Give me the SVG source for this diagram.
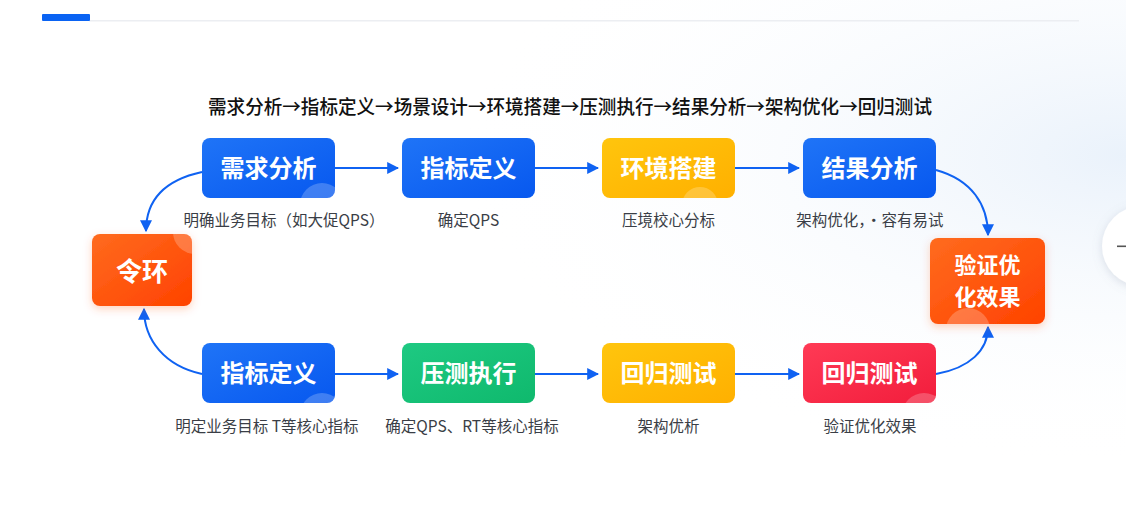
<svg xmlns="http://www.w3.org/2000/svg" width="1126" height="520" viewBox="0 0 1126 520">
<defs>
<style>
.nt{font-family:"Noto Sans CJK SC","Noto Sans",sans-serif;font-weight:700;fill:#fff;font-size:24px;text-anchor:middle}
.sub{font-family:"Noto Sans CJK SC","Noto Sans",sans-serif;font-size:15.5px;fill:#3a3e46;text-anchor:middle}
.title{font-family:"Noto Sans CJK SC","Noto Sans",sans-serif;font-size:19.5px;font-weight:500;fill:#111;text-anchor:middle}
.conn{fill:none;stroke:#0f62f2;stroke-width:2}
.deco{fill:#fff;opacity:0.22}
</style>
<linearGradient id="gBlue" x1="0" y1="0" x2="1" y2="1"><stop offset="0" stop-color="#1f74f7"/><stop offset="1" stop-color="#0758ef"/></linearGradient>
<linearGradient id="gYellow" x1="0" y1="0" x2="1" y2="1"><stop offset="0" stop-color="#ffc50d"/><stop offset="1" stop-color="#ffb000"/></linearGradient>
<linearGradient id="gGreen" x1="0" y1="0" x2="1" y2="1"><stop offset="0" stop-color="#1ec982"/><stop offset="1" stop-color="#0fb96d"/></linearGradient>
<linearGradient id="gRed" x1="0" y1="0" x2="1" y2="1"><stop offset="0" stop-color="#ff3a55"/><stop offset="1" stop-color="#f21d3c"/></linearGradient>
<linearGradient id="gOrange" x1="0" y1="0" x2="1" y2="1"><stop offset="0" stop-color="#ff6b1e"/><stop offset="1" stop-color="#ff4200"/></linearGradient>
<radialGradient id="bgR" cx="1" cy="0.3" r="0.6"><stop offset="0" stop-color="#eaf2fb"/><stop offset="1" stop-color="#ffffff" stop-opacity="0"/></radialGradient>
<filter id="sh" x="-20%" y="-20%" width="140%" height="150%"><feDropShadow dx="0" dy="3" stdDeviation="4" flood-color="#ff5010" flood-opacity="0.25"/></filter>
<filter id="csh" x="-50%" y="-50%" width="200%" height="200%"><feDropShadow dx="0" dy="2" stdDeviation="5" flood-color="#7a8aa0" flood-opacity="0.25"/></filter>
<marker id="ah" viewBox="0 0 10 10" refX="9" refY="5" markerWidth="6" markerHeight="6" orient="auto" markerUnits="strokeWidth"><path d="M0,0 L10,5 L0,10 z" fill="#0f62f2"/></marker>
<clipPath id="c1"><rect x="202" y="138" width="133" height="60" rx="8"/></clipPath>
<clipPath id="c3"><rect x="602" y="138" width="133" height="60" rx="8"/></clipPath>
<clipPath id="c5"><rect x="202" y="343" width="133" height="60" rx="8"/></clipPath>
<clipPath id="c8"><rect x="803" y="343" width="133" height="60" rx="8"/></clipPath>
<clipPath id="c9"><rect x="92" y="234" width="100" height="72" rx="8"/></clipPath>
<clipPath id="c10"><rect x="930" y="238" width="115" height="86" rx="8"/></clipPath>
</defs>

<rect width="1126" height="520" fill="#ffffff"/>
<rect width="1126" height="520" fill="url(#bgR)"/>

<g id="header">
<rect x="89" y="20" width="990" height="1.5" fill="#eceef2"/>
<rect x="42" y="14" width="48" height="7" rx="1" fill="#0a63f3"/>
</g>

<g id="side-button">
<circle cx="1142" cy="246" r="40" fill="#ffffff" filter="url(#csh)"/>
<rect x="1117" y="245.5" width="9" height="1.6" fill="#555"/>
</g>

<text class="title" x="570" y="114" textLength="724" lengthAdjust="spacingAndGlyphs">需求分析→指标定义→场景设计→环境搭建→压测执行→结果分析→架构优化→回归测试</text>

<g id="connectors">
<line class="conn" x1="335" y1="168" x2="398" y2="168" marker-end="url(#ah)"/>
<line class="conn" x1="535" y1="168" x2="598" y2="168" marker-end="url(#ah)"/>
<line class="conn" x1="735" y1="168" x2="799" y2="168" marker-end="url(#ah)"/>
<line class="conn" x1="335" y1="374" x2="398" y2="374" marker-end="url(#ah)"/>
<line class="conn" x1="535" y1="374" x2="598" y2="374" marker-end="url(#ah)"/>
<line class="conn" x1="735" y1="374" x2="799" y2="374" marker-end="url(#ah)"/>
<path class="conn" d="M202,172 C165,180 146,200 146,231" marker-end="url(#ah)"/>
<path class="conn" d="M202,374 C165,366 144,340 144,309" marker-end="url(#ah)"/>
<path class="conn" d="M936,170 C972,180 988,205 988,235" marker-end="url(#ah)"/>
<path class="conn" d="M936,374 C970,368 988,350 988,327" marker-end="url(#ah)"/>
</g>

<g id="n-xuqiu">
<rect x="202" y="138" width="133" height="60" rx="8" fill="url(#gBlue)"/>
<circle class="deco" cx="322" cy="205" r="22" clip-path="url(#c1)"/>
<text class="nt" x="268.5" y="177">需求分析</text>
<text class="sub" x="284" y="226">明确业务目标（如大促QPS）</text>
</g>
<g id="n-zhibiao1">
<rect x="402" y="138" width="133" height="60" rx="8" fill="url(#gBlue)"/>
<text class="nt" x="468.5" y="177">指标定义</text>
<text class="sub" x="468.5" y="226">确定QPS</text>
</g>
<g id="n-huanjing">
<rect x="602" y="138" width="133" height="60" rx="8" fill="url(#gYellow)"/>
<circle class="deco" cx="700" cy="205" r="18" clip-path="url(#c3)"/>
<text class="nt" x="668.5" y="177">环境搭建</text>
<text class="sub" x="668.5" y="226">压境校心分标</text>
</g>
<g id="n-jieguo">
<rect x="803" y="138" width="133" height="60" rx="8" fill="url(#gBlue)"/>
<text class="nt" x="869.5" y="177">结果分析</text>
<text class="sub" x="870" y="226">架构优化，·容有易试</text>
</g>
<g id="n-linghuan">
<rect x="92" y="234" width="100" height="72" rx="8" fill="url(#gOrange)" filter="url(#sh)"/>
<circle class="deco" cx="195" cy="232" r="22" clip-path="url(#c9)"/>
<text class="nt" x="142" y="281" style="font-size:26px">令环</text>
</g>
<g id="n-yanzheng">
<rect x="930" y="238" width="115" height="86" rx="8" fill="url(#gOrange)" filter="url(#sh)"/>
<circle class="deco" cx="968" cy="330" r="22" clip-path="url(#c10)"/>
<text class="nt" x="987.5" y="273" style="font-size:22px"><tspan x="987.5">验证优</tspan><tspan x="987.5" dy="32">化效果</tspan></text>
</g>
<g id="n-zhibiao2">
<rect x="202" y="343" width="133" height="60" rx="8" fill="url(#gBlue)"/>
<circle class="deco" cx="322" cy="415" r="22" clip-path="url(#c5)"/>
<text class="nt" x="268.5" y="382">指标定义</text>
<text class="sub" x="267" y="432">明定业务目标 T等核心指标</text>
</g>
<g id="n-yace">
<rect x="402" y="343" width="133" height="60" rx="8" fill="url(#gGreen)"/>
<text class="nt" x="468.5" y="382">压测执行</text>
<text class="sub" x="472" y="432">确定QPS、RT等核心指标</text>
</g>
<g id="n-huigui1">
<rect x="602" y="343" width="133" height="60" rx="8" fill="url(#gYellow)"/>
<text class="nt" x="668.5" y="382">回归测试</text>
<text class="sub" x="668.5" y="432">架构优析</text>
</g>
<g id="n-huigui2">
<rect x="803" y="343" width="133" height="60" rx="8" fill="url(#gRed)"/>
<circle class="deco" cx="924" cy="415" r="22" clip-path="url(#c8)"/>
<text class="nt" x="869.5" y="382">回归测试</text>
<text class="sub" x="870" y="432">验证优化效果</text>
</g>
</svg>
